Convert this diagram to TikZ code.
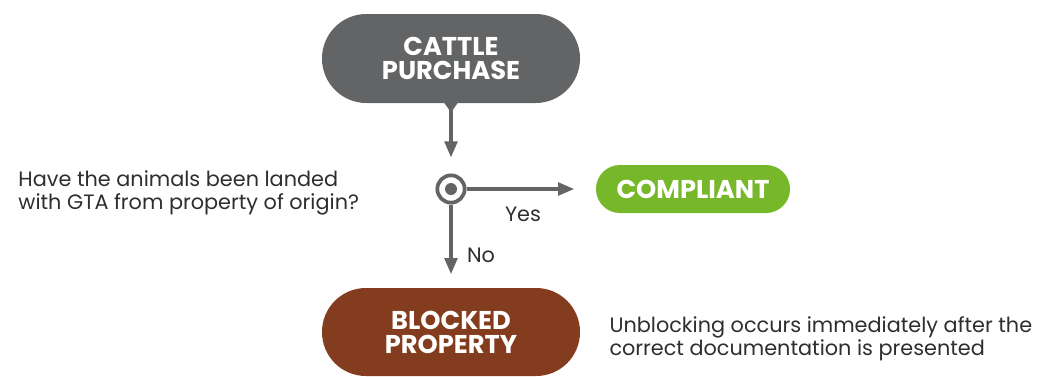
\documentclass[tikz,border=0pt]{standalone}
\usepackage{fontspec}
\setmainfont{Poppins}
\usetikzlibrary{arrows.meta}

\definecolor{flowgrey}{HTML}{636466}
\definecolor{okgreen}{HTML}{77B82A}
\definecolor{blockbrown}{HTML}{843C1E}
\definecolor{bodytext}{HTML}{2E2E2E}

\tikzset{every picture/.style={line width=0.75pt}}
\tikzset{
  pill/.style={rectangle, text=white, font=\bfseries\fontsize{19.3}{18}\selectfont, align=center, inner sep=0pt},
  flow/.style={draw=flowgrey, line width=2.4pt, -{Triangle[length=12pt,width=9.5pt]}},
  note/.style={text=bodytext, font=\fontsize{15.6}{17.5}\selectfont, align=left, inner sep=0pt},
}

\begin{document}
\begin{tikzpicture}[x=0.75pt,y=0.75pt,yscale=-1,xscale=1]
\useasboundingbox (0,0) rectangle (1042,376);

%Shape: Pill [id:cattle]
\node [pill, fill=flowgrey, minimum width=193.5pt, minimum height=66.75pt, rounded corners=33.3pt] (cattle) at (451,58.5) {CATTLE\\PURCHASE};
%Shape: Pill [id:compliant]
\node [pill, fill=okgreen, minimum width=145.5pt, minimum height=36pt, rounded corners=17.9pt] (compliant) at (693,189) {COMPLIANT};
%Shape: Pill [id:blocked]
\node [pill, fill=blockbrown, minimum width=193.5pt, minimum height=66pt, rounded corners=32.9pt] (blocked) at (451,332) {BLOCKED\\PROPERTY};

%Shape: Triangle [id:pointer]
\fill [flowgrey] (cattle.south) ++(-7,-1) -- ++(14,0) -- ++(-7,10) -- cycle ;
\coordinate (tip) at ([yshift=-9] cattle.south);

%Shape: Circle [id:junc]
\node [circle, draw=flowgrey, line width=2.8pt, fill=white, minimum size=20.5pt, inner sep=0pt] (junc) at (451,189) {};
\fill [flowgrey] (junc.center) circle (6);

%Straight Lines [id:down1]
\draw [flow, shorten >=12] (tip) -- (junc.north) ;
%Straight Lines [id:yes]
\draw [flow, shorten >=16] (junc.east) -- (compliant.west) ;
%Straight Lines [id:no]
\draw [flow, shorten >=10] (junc.south) -- (blocked.north) ;

% Text Node
\node [note] (yeslbl) at (523,214) {Yes};
% Text Node
\node [note] (nolbl) at (481,255) {No};
% Text Node
\node [note, anchor=west] (question) at (18,193) {Have the animals been landed\\with GTA from property of origin?};
% Text Node
\node [note, anchor=west] (unblock) at (609,339) {Unblocking occurs immediately after the\\correct documentation is presented};

\end{tikzpicture}
\end{document}
